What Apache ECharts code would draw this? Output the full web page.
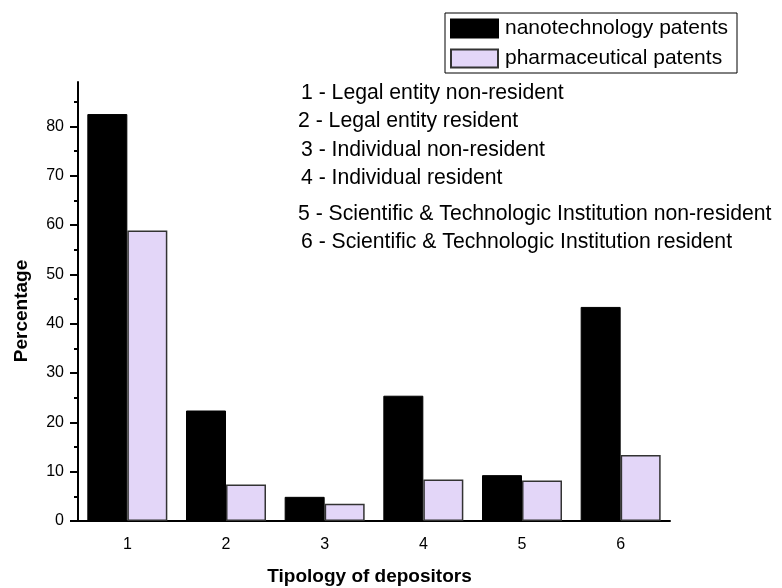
<!DOCTYPE html>
<html>
<head>
<meta charset="utf-8">
<script src="https://cdn.jsdelivr.net/npm/echarts@6/dist/echarts.min.js"></script>
<style>html,body{margin:0;padding:0;background:#fff}#c{width:782px;height:588px}</style>
</head>
<body>
<div id="c"></div>
<script>
const categories = ['1', '2', '3', '4', '5', '6'];
const nanoValues = [82.5, 22.4, 4.9, 25.4, 9.3, 43.4];
const pharmaValues = [58.9, 7.4, 3.5, 8.4, 8.2, 13.4];
const seriesNames = ['nanotechnology patents', 'pharmaceutical patents'];
const yTickValues = [0, 10, 20, 30, 40, 50, 60, 70, 80];
const annotationLines = [
  '1 - Legal entity non-resident',
  '2 - Legal entity resident',
  '3 - Individual non-resident',
  '4 - Individual resident',
  '5 - Scientific & Technologic Institution non-resident',
  '6 - Scientific & Technologic Institution resident'
];
const xTitle = 'Tipology of depositors';
const yTitle = 'Percentage';

const FONT = 'Arial, "Liberation Sans", Helvetica, sans-serif';
const annX = [301, 298, 301, 301, 298, 301];
const annY = [95, 123, 152, 180, 216, 244];

const chart = echarts.init(document.getElementById('c'));
chart.setOption({
  backgroundColor: '#fff',
  animation: false,
  textStyle: { fontFamily: FONT },
  grid: { left: 78, right: 112, top: 82, bottom: 67, outerBoundsMode: 'none', containLabel: false },
  legend: {
    left: 445, top: 13,
    orient: 'vertical',
    itemWidth: 47, itemHeight: 18, itemGap: 9,
    padding: [5, 9, 4, 5],
    borderColor: '#000', borderWidth: 1,
    icon: 'rect',
    textStyle: { fontSize: 21, color: '#000', fontFamily: FONT, padding: [0, 0, 0, 2] },
    data: seriesNames
  },
  xAxis: [{
    type: 'category',
    data: categories,
    position: 'bottom',
    axisLine: { lineStyle: { color: '#000', width: 2 } },
    axisTick: { alignWithLabel: true, length: 8, lineStyle: { color: '#000', width: 2 } },
    axisLabel: { color: '#000', fontSize: 16, margin: 16, fontFamily: FONT },
    name: xTitle, nameLocation: 'middle', nameGap: 46,
    nameTextStyle: { fontSize: 19, fontWeight: 'bold', color: '#000', fontFamily: FONT, padding: [0, 9, 0, 0] }
  }, {
    type: 'category',
    data: categories,
    position: 'bottom',
    axisLine: { show: false },
    axisTick: { length: 4, lineStyle: { color: '#000', width: 2 } },
    axisLabel: { show: false }
  }],
  yAxis: {
    type: 'value',
    min: 0, max: 89, interval: 10,
    axisLine: { show: true, lineStyle: { color: '#000', width: 2 } },
    axisTick: { show: true, length: 8, customValues: yTickValues, lineStyle: { color: '#000', width: 2 } },
    minorTick: { show: true, splitNumber: 2, length: 4, lineStyle: { color: '#000', width: 2 } },
    splitLine: { show: false },
    axisLabel: { color: '#000', fontSize: 16, margin: 14, fontFamily: FONT, customValues: yTickValues },
    name: yTitle, nameLocation: 'middle', nameGap: 47, nameRotate: 90,
    nameTextStyle: { fontSize: 19, fontWeight: 'bold', color: '#000', fontFamily: FONT, padding: [0, 19, 0, 0] }
  },
  series: [{
    name: seriesNames[0], type: 'bar', xAxisIndex: 0,
    data: nanoValues, barWidth: 40, barGap: '0%',
    itemStyle: { color: '#000', borderColor: '#000', borderWidth: 1 }
  }, {
    name: seriesNames[1], type: 'bar', xAxisIndex: 0,
    data: pharmaValues, barWidth: 40, barGap: '0%',
    itemStyle: { color: '#E3D6F8', borderColor: '#333', borderWidth: 1.5 }
  }],
  graphic: annotationLines.map((t, i) => ({
    type: 'text', left: annX[i], top: annY[i] - 12,
    style: { text: t, fontSize: 21.2, fill: '#000', fontFamily: FONT }
  }))
});
</script>
</body>
</html>
